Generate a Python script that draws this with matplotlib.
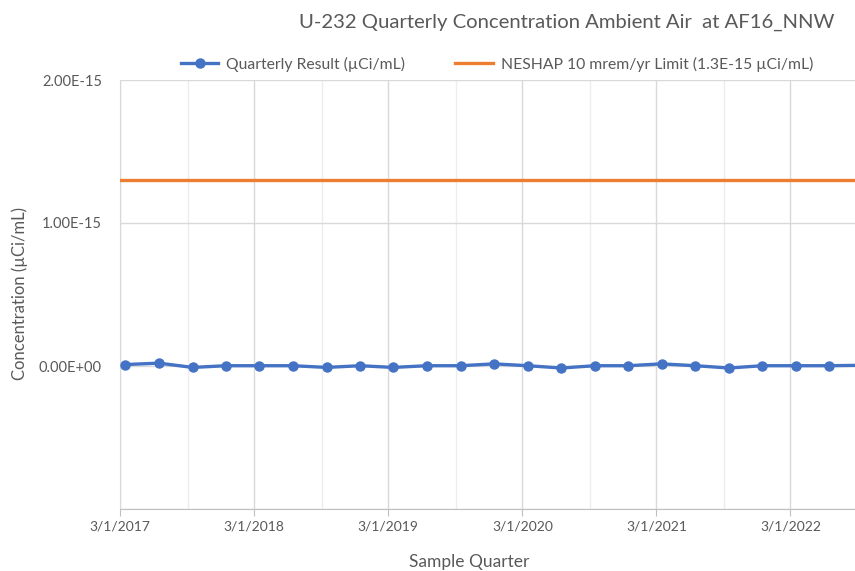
import pandas as pd
import matplotlib.pyplot as plt
import matplotlib.dates as mdates
from matplotlib.ticker import FixedLocator, FixedFormatter

plt.rcParams['font.family'] = ['Lato', 'DejaVu Sans']

sample_dates = ["2017-03-15", "2017-06-15", "2017-09-15", "2017-12-15",
                "2018-03-15", "2018-06-15", "2018-09-15", "2018-12-15",
                "2019-03-15", "2019-06-15", "2019-09-15", "2019-12-15",
                "2020-03-15", "2020-06-15", "2020-09-15", "2020-12-15",
                "2021-03-15", "2021-06-15", "2021-09-15", "2021-12-15",
                "2022-03-15", "2022-06-15", "2022-09-15"]
quarterly_result = [1.0e-17, 2.0e-17, -1.0e-17, 0.2e-17,
                    0.2e-17, 0.2e-17, -1.0e-17, 0.2e-17,
                    -1.0e-17, 0.2e-17, 0.2e-17, 1.5e-17,
                    0.2e-17, -1.4e-17, 0.2e-17, 0.2e-17,
                    1.5e-17, 0.2e-17, -1.4e-17, 0.2e-17,
                    0.2e-17, 0.2e-17, 0.5e-17]
neshap_limit = 1.3e-15
y_ticks = [-1e-15, 0, 1e-15, 2e-15]
y_labels = ["", "0.00E+00", "1.00E-15", "2.00E-15"]

dates = pd.to_datetime(sample_dates)
blue = "#4472C4"
orange = "#ED7D31"
gray = "#595959"

fig = plt.figure(figsize=(8.55, 5.71), dpi=100)
ax = fig.add_axes([120/855, 1 - 509/571, 1 - 120/855, (509 - 80)/571])

ax.plot(dates, quarterly_result, color=blue, lw=2.4, marker="o", ms=6.5,
        label="Quarterly Result (µCi/mL)", zorder=3)
ax.axhline(neshap_limit, color=orange, lw=2.4,
           label="NESHAP 10 mrem/yr Limit (1.3E-15 µCi/mL)", zorder=3)

ax.set_xlim(pd.Timestamp("2017-03-01"), pd.Timestamp("2022-08-24"))
ax.set_ylim(-1e-15, 2e-15)

ax.yaxis.set_major_locator(FixedLocator(y_ticks))
ax.yaxis.set_major_formatter(FixedFormatter(y_labels))
ax.xaxis.set_major_locator(mdates.MonthLocator(bymonth=3, bymonthday=1))
ax.xaxis.set_minor_locator(mdates.MonthLocator(bymonth=9, bymonthday=1))
ax.xaxis.set_major_formatter(mdates.DateFormatter("%-m/%-d/%Y"))

ax.grid(True, which="major", color="#D9D9D9", lw=1)
ax.grid(True, which="minor", axis="x", color="#EDEDED", lw=1)
ax.set_axisbelow(True)

for s in ["top", "right"]:
    ax.spines[s].set_visible(False)
ax.spines["left"].set_color("#D9D9D9")
ax.spines["bottom"].set_color("#BFBFBF")
ax.tick_params(axis="y", length=0, pad=13, labelsize=10.5, labelcolor=gray)
ax.tick_params(axis="x", which="major", length=5, color="#BFBFBF", pad=3,
               labelsize=10, labelcolor=gray)
ax.tick_params(axis="x", which="minor", length=0)

fig.text(469/855, 1 - 562/571, "Sample Quarter", ha="center", va="center",
         fontsize=12.5, color=gray)
fig.text(20/855, 1 - 294/571, "Concentration (µCi/mL)", ha="center", va="center",
         rotation=90, fontsize=12, color=gray)

fig.text(567/855, 1 - 22/571, "U-232 Quarterly Concentration Ambient Air  at AF16_NNW",
         ha="center", va="center", fontsize=14.6, color=gray)

fig.legend(loc="center", bbox_to_anchor=(497/855, 1 - 64/571), ncol=2,
           frameon=False, fontsize=11.3, labelcolor=gray, handlelength=2.4,
           columnspacing=3.2, handletextpad=0.5)

fig.savefig("out.png", dpi=100)
